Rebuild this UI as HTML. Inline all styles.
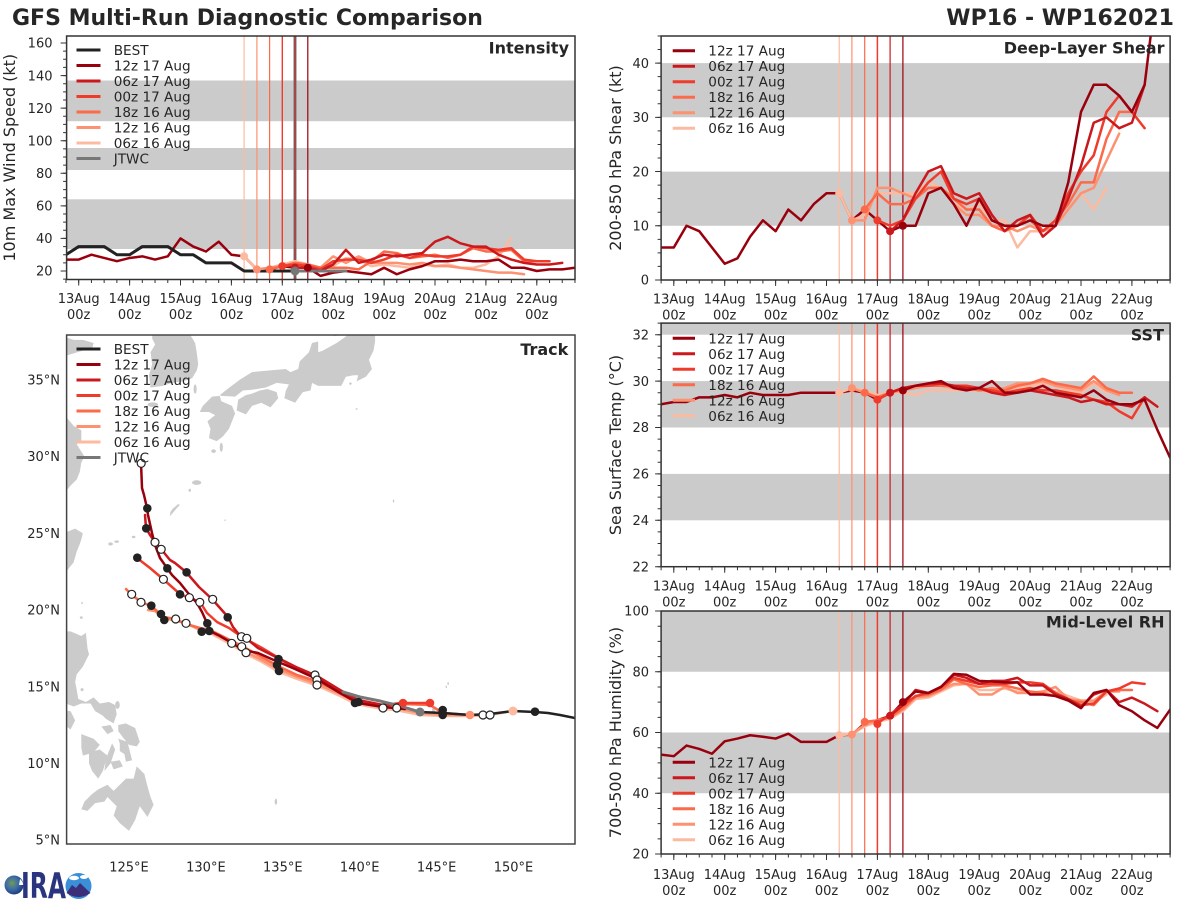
<!DOCTYPE html>
<html><head><meta charset="utf-8">
<style>
html,body{margin:0;padding:0;background:#fff;}
svg{display:block;font-family:"DejaVu Sans","Liberation Sans",sans-serif;}
.t{font-size:13px;fill:#262626;}
.tm{font-size:13px;fill:#262626;text-anchor:middle;}
.te{font-size:13px;fill:#262626;text-anchor:end;}
.lg{font-size:13.6px;fill:#262626;}
.pl{font-size:16px;font-weight:bold;fill:#262626;text-anchor:end;}
.yl{font-size:16px;fill:#262626;text-anchor:middle;}
.ln{fill:none;vector-effect:non-scaling-stroke;stroke-width:2.5;stroke-linejoin:round;stroke-linecap:round;}
.tl{fill:none;stroke-width:2.5;stroke-linejoin:round;stroke-linecap:round;}
.fr{fill:none;stroke:#333;stroke-width:1.5;}
.tk{stroke:#333;fill:none;}
</style></head><body>
<svg width="1200" height="900" viewBox="0 0 1200 900">
<defs>
<clipPath id="cpI"><rect x="66.6" y="36" width="508.4" height="243.5"/></clipPath>
<clipPath id="cpS"><rect x="661.1" y="36" width="509" height="244"/></clipPath>
<clipPath id="cpT"><rect x="661.1" y="323.1" width="509" height="243.6"/></clipPath>
<clipPath id="cpR"><rect x="661.1" y="611" width="509" height="243"/></clipPath>
<clipPath id="cpK"><rect x="66.6" y="335" width="508.4" height="509"/></clipPath>
<radialGradient id="gl" cx="0.4" cy="0.4" r="0.7"><stop offset="0" stop-color="#6f9a5a"/><stop offset="0.5" stop-color="#3a6aa8"/><stop offset="1" stop-color="#1b2d6b"/></radialGradient>
</defs>

<!-- Titles -->
<text x="12" y="25" style="font-size:22px;font-weight:bold;fill:#262626">GFS Multi-Run Diagnostic Comparison</text>
<text x="1174" y="25" style="font-size:22px;font-weight:bold;fill:#262626;text-anchor:end">WP16 - WP162021</text>

<!-- ================= INTENSITY ================= -->
<g clip-path="url(#cpI)">
<rect x="66" y="80.5" width="510" height="40.7" fill="#cbcbcb"/>
<rect x="66" y="148" width="510" height="22" fill="#cbcbcb"/>
<rect x="66" y="199.3" width="510" height="49.7" fill="#cbcbcb"/>
<line x1="244.1" y1="36" x2="244.1" y2="280" stroke="#fcbba1" stroke-width="1.2"/>
<line x1="256.9" y1="36" x2="256.9" y2="280" stroke="#fc9272" stroke-width="1.2"/>
<line x1="269.6" y1="36" x2="269.6" y2="280" stroke="#fb6a4a" stroke-width="1.2"/>
<line x1="282.3" y1="36" x2="282.3" y2="280" stroke="#ef3b2c" stroke-width="1.4"/>
<line x1="295" y1="36" x2="295" y2="280" stroke="#777" stroke-width="3"/>
<line x1="295" y1="36" x2="295" y2="280" stroke="#cb181d" stroke-width="1"/>
<line x1="307.8" y1="36" x2="307.8" y2="280" stroke="#99000d" stroke-width="1.2"/>
<g transform="matrix(12.725,0,0,-1.6286,78.7,303.57)">
<polyline class="ln" stroke="#99000d" points="-1,27 0,27 1,30 2,28 3,26 4,28 5,29 6,27 7,29 8,40 9,35 10,32 11,38 12,30 13,29 14,21 15,21 16,23 17,22 18,22"/>
<polyline class="ln" stroke="#222" style="stroke-width:3" points="-1,30 0,35 1,35 2,35 3,30 4,30 5,35 6,35 7,35 8,30 9,30 10,25 11,25 12,25 13,20 14,20 15,20 16,20 17,20"/>
<polyline class="ln" stroke="#fcbba1" points="13,29 14,21 15,22 16,24 17,26 18,24 19,22 20,23 21,28 22,27 23,23 24,24 25,23 26,22 27,24 28,23 29,24 30,22 31,22 32,24 33,29 34,40"/>
<polyline class="ln" stroke="#fc9272" points="14,21 15,22 16,23 17,24 18,24 19,22 20,29 21,25 22,29 23,25 24,25 25,25 26,24 27,25 28,23 29,23 30,22 31,21 32,20 33,19 34,19 35,18"/>
<polyline class="ln" stroke="#fb6a4a" points="15,21 16,23 17,25 18,24 19,22 20,22 21,22 22,21 23,26 24,32 25,31 26,28 27,29 28,30 29,28 30,30 31,34 32,32 33,32 34,33 35,26 36,26"/>
<polyline class="ln" stroke="#ef3b2c" points="16,23 17,24 18,23 19,21 20,26 21,27 22,27 23,25 24,27 25,30 26,28 27,30 28,29 29,29 30,30 31,35 32,34 33,33 34,34 35,27 36,26 37,26"/>
<polyline class="ln" stroke="#cb181d" points="17,22 18,22 19,20 20,24 21,33 22,25 23,27 24,30 25,29 26,30 27,31 28,38 29,41 30,37 31,35 32,35 33,30 34,27 35,25 36,24 37,24 38,25"/>
<polyline class="ln" stroke="#99000d" points="18,22 19,17 20,19 21,20 22,19 23,18 24,22 25,18 26,21 27,23 28,26 29,26 30,27 31,26 32,26 33,27 34,22 35,22 36,20 37,21 38,21 39,22"/>
<polyline class="ln" stroke="#777" style="stroke-width:3" points="17,20 21,20"/>
</g>
<circle cx="244.1" cy="256.3" r="4" fill="#fcbba1"/>
<circle cx="256.9" cy="269.4" r="4" fill="#fc9272"/>
<circle cx="269.6" cy="269.4" r="4" fill="#fb6a4a"/>
<circle cx="282.3" cy="266.1" r="4" fill="#ef3b2c"/>
<circle cx="295" cy="267.7" r="4" fill="#cb181d"/>
<circle cx="307.8" cy="267.7" r="4" fill="#99000d"/>
<circle cx="295" cy="271" r="4.5" fill="#777"/>
</g>
<rect class="fr" x="66.6" y="36" width="508.4" height="243.5"/>
<!-- ticks -->
<line class="tk" x1="65.475" y1="281.25" x2="575.5" y2="281.25" stroke-width="3.5" stroke-dasharray="1 11.725"/>
<line class="tk" x1="78.2" y1="282.5" x2="540" y2="282.5" stroke-width="6" stroke-dasharray="1 49.9"/>
<line class="tk" x1="64.85" y1="42.5" x2="64.85" y2="280" stroke-width="3.5" stroke-dasharray="1 7.143"/>
<line class="tk" x1="63.6" y1="42.5" x2="63.6" y2="272" stroke-width="6" stroke-dasharray="1 31.57"/>
<g class="te">
<text class="te" x="52.5" y="47.7">160</text><text class="te" x="52.5" y="80.3">140</text><text class="te" x="52.5" y="112.8">120</text><text class="te" x="52.5" y="145.4">100</text><text class="te" x="52.5" y="178">80</text><text class="te" x="52.5" y="210.6">60</text><text class="te" x="52.5" y="243.1">40</text><text class="te" x="52.5" y="275.7">20</text>
</g>
<text class="tm" x="78.7" y="303.2">13Aug<tspan x="78.7" dy="15.8">00z</tspan></text>
<text class="tm" x="129.6" y="303.2">14Aug<tspan x="129.6" dy="15.8">00z</tspan></text>
<text class="tm" x="180.5" y="303.2">15Aug<tspan x="180.5" dy="15.8">00z</tspan></text>
<text class="tm" x="231.4" y="303.2">16Aug<tspan x="231.4" dy="15.8">00z</tspan></text>
<text class="tm" x="282.3" y="303.2">17Aug<tspan x="282.3" dy="15.8">00z</tspan></text>
<text class="tm" x="333.2" y="303.2">18Aug<tspan x="333.2" dy="15.8">00z</tspan></text>
<text class="tm" x="384.1" y="303.2">19Aug<tspan x="384.1" dy="15.8">00z</tspan></text>
<text class="tm" x="435" y="303.2">20Aug<tspan x="435" dy="15.8">00z</tspan></text>
<text class="tm" x="485.9" y="303.2">21Aug<tspan x="485.9" dy="15.8">00z</tspan></text>
<text class="tm" x="536.8" y="303.2">22Aug<tspan x="536.8" dy="15.8">00z</tspan></text>
<text class="yl" transform="translate(15,157.75) rotate(-90)">10m Max Wind Speed (kt)</text>
<text class="pl" x="569" y="53.3">Intensity</text>
<!-- legend -->
<g stroke-width="3">
<line x1="76.5" y1="50" x2="100.5" y2="50" stroke="#222"/>
<line x1="76.5" y1="65.5" x2="100.5" y2="65.5" stroke="#99000d"/>
<line x1="76.5" y1="81" x2="100.5" y2="81" stroke="#cb181d"/>
<line x1="76.5" y1="96.5" x2="100.5" y2="96.5" stroke="#ef3b2c"/>
<line x1="76.5" y1="112" x2="100.5" y2="112" stroke="#fb6a4a"/>
<line x1="76.5" y1="127.5" x2="100.5" y2="127.5" stroke="#fc9272"/>
<line x1="76.5" y1="143" x2="100.5" y2="143" stroke="#fcbba1"/>
<line x1="76.5" y1="158.5" x2="100.5" y2="158.5" stroke="#777"/>
</g>
<text class="lg" x="113.7" y="55">BEST</text>
<text class="lg" x="113.7" y="70.5">12z 17 Aug</text>
<text class="lg" x="113.7" y="86">06z 17 Aug</text>
<text class="lg" x="113.7" y="101.5">00z 17 Aug</text>
<text class="lg" x="113.7" y="117">18z 16 Aug</text>
<text class="lg" x="113.7" y="132.5">12z 16 Aug</text>
<text class="lg" x="113.7" y="148">06z 16 Aug</text>
<text class="lg" x="113.7" y="163.5">JTWC</text>

<!-- ================= SHEAR ================= -->
<g clip-path="url(#cpS)">
<rect x="660" y="63.1" width="512" height="54.2" fill="#cbcbcb"/>
<rect x="660" y="171.6" width="512" height="54.2" fill="#cbcbcb"/>
<line x1="839.2" y1="36" x2="839.2" y2="280" stroke="#fcbba1" stroke-width="1.2"/>
<line x1="851.9" y1="36" x2="851.9" y2="280" stroke="#fc9272" stroke-width="1.2"/>
<line x1="864.7" y1="36" x2="864.7" y2="280" stroke="#fb6a4a" stroke-width="1.2"/>
<line x1="877.4" y1="36" x2="877.4" y2="280" stroke="#ef3b2c" stroke-width="1.5"/>
<line x1="890.1" y1="36" x2="890.1" y2="280" stroke="#cb181d" stroke-width="1.2"/>
<line x1="902.9" y1="36" x2="902.9" y2="280" stroke="#99000d" stroke-width="1.2"/>
<g transform="matrix(12.725,0,0,-5.422,673.8,280)">
<polyline class="ln" stroke="#99000d" points="-1,6 0,6 1,10 2,9 3,6 4,3 5,4 6,8 7,11 8,9 9,13 10,11 11,14 12,16 13,16 14,11 15,13 16,11 17,9 18,10"/>
<polyline class="ln" stroke="#fcbba1" points="13,16 14,11 15,12 16,16 17,16 18,16 19,16 20,18 21,17 22,14 23,13 24,14 25,11 26,11 27,6 28,9 29,9 30,10 31,13 32,16 33,13 34,17"/>
<polyline class="ln" stroke="#fc9272" points="14,11 15,11 16,17 17,17 18,16 19,15 20,17 21,17 22,14 23,12 24,12 25,10 26,10 27,9 28,10 29,9 30,10 31,13 32,16 33,17 34,22 35,27"/>
<polyline class="ln" stroke="#fb6a4a" points="15,13 16,16 17,14 18,14 19,15 20,17 21,17 22,15 23,13 24,13 25,10 26,9 27,10 28,11 29,9 30,11 31,14 32,18 33,18 34,26 35,31 36,31"/>
<polyline class="ln" stroke="#ef3b2c" points="16,11 17,10 18,11 19,15 20,18 21,20 22,15 23,14 24,15 25,11 26,10 27,10 28,12 29,9 30,11 31,16 32,20 33,23 34,31 35,34 36,31 37,28"/>
<polyline class="ln" stroke="#cb181d" points="17,9 18,11 19,16 20,20 21,21 22,16 23,15 24,16 25,12 26,9 27,11 28,12 29,8 30,10 31,15 32,21 33,29 34,30 35,28 36,29 37,36"/>
<polyline class="ln" stroke="#99000d" points="18,10 19,10 20,16 21,17 22,14 23,10 24,15 25,11 26,10 27,10 28,11 29,10 30,10 31,18 32,31 33,36 34,36 35,34 36,31 37,36 38,55"/>
</g>
<circle cx="839.2" cy="193.2" r="4" fill="#fcbba1"/>
<circle cx="851.9" cy="220.4" r="4" fill="#fc9272"/>
<circle cx="864.7" cy="209.5" r="4" fill="#fb6a4a"/>
<circle cx="877.4" cy="220.4" r="4" fill="#ef3b2c"/>
<circle cx="890.1" cy="231.2" r="4" fill="#cb181d"/>
<circle cx="902.9" cy="225.8" r="4" fill="#99000d"/>
</g>
<rect class="fr" x="661.1" y="36" width="509" height="244"/>
<line class="tk" x1="660.6" y1="281.75" x2="1170.6" y2="281.75" stroke-width="3.5" stroke-dasharray="1 11.725"/>
<line class="tk" x1="673.3" y1="283" x2="1135" y2="283" stroke-width="6" stroke-dasharray="1 49.9"/>
<line class="tk" x1="659.35" y1="35.5" x2="659.35" y2="280.5" stroke-width="3.5" stroke-dasharray="1 12.555"/>
<line class="tk" x1="658.1" y1="62.62" x2="658.1" y2="280.5" stroke-width="6" stroke-dasharray="1 53.22"/>
<text class="te" x="649" y="67.8">40</text><text class="te" x="649" y="122">30</text><text class="te" x="649" y="176.3">20</text><text class="te" x="649" y="230.5">10</text><text class="te" x="649" y="284.7">0</text>
<text class="tm" x="673.8" y="303.7">13Aug<tspan x="673.8" dy="15.8">00z</tspan></text>
<text class="tm" x="724.7" y="303.7">14Aug<tspan x="724.7" dy="15.8">00z</tspan></text>
<text class="tm" x="775.6" y="303.7">15Aug<tspan x="775.6" dy="15.8">00z</tspan></text>
<text class="tm" x="826.5" y="303.7">16Aug<tspan x="826.5" dy="15.8">00z</tspan></text>
<text class="tm" x="877.4" y="303.7">17Aug<tspan x="877.4" dy="15.8">00z</tspan></text>
<text class="tm" x="928.3" y="303.7">18Aug<tspan x="928.3" dy="15.8">00z</tspan></text>
<text class="tm" x="979.2" y="303.7">19Aug<tspan x="979.2" dy="15.8">00z</tspan></text>
<text class="tm" x="1030.1" y="303.7">20Aug<tspan x="1030.1" dy="15.8">00z</tspan></text>
<text class="tm" x="1081" y="303.7">21Aug<tspan x="1081" dy="15.8">00z</tspan></text>
<text class="tm" x="1131.9" y="303.7">22Aug<tspan x="1131.9" dy="15.8">00z</tspan></text>
<text class="yl" transform="translate(621,158) rotate(-90)">200-850 hPa Shear (kt)</text>
<text class="pl" x="1164.5" y="53.3">Deep-Layer Shear</text>
<g stroke-width="3">
<line x1="672.7" y1="50.7" x2="695" y2="50.7" stroke="#99000d"/>
<line x1="672.7" y1="66.2" x2="695" y2="66.2" stroke="#cb181d"/>
<line x1="672.7" y1="81.7" x2="695" y2="81.7" stroke="#ef3b2c"/>
<line x1="672.7" y1="97.2" x2="695" y2="97.2" stroke="#fb6a4a"/>
<line x1="672.7" y1="112.7" x2="695" y2="112.7" stroke="#fc9272"/>
<line x1="672.7" y1="128.2" x2="695" y2="128.2" stroke="#fcbba1"/>
</g>
<text class="lg" x="708.3" y="55.7">12z 17 Aug</text>
<text class="lg" x="708.3" y="71.2">06z 17 Aug</text>
<text class="lg" x="708.3" y="86.7">00z 17 Aug</text>
<text class="lg" x="708.3" y="102.2">18z 16 Aug</text>
<text class="lg" x="708.3" y="117.7">12z 16 Aug</text>
<text class="lg" x="708.3" y="133.2">06z 16 Aug</text>

<!-- ================= SST ================= -->
<g clip-path="url(#cpT)">
<rect x="660" y="322" width="512" height="12.7" fill="#cbcbcb"/>
<rect x="660" y="381.1" width="512" height="46.4" fill="#cbcbcb"/>
<rect x="660" y="473.9" width="512" height="46.4" fill="#cbcbcb"/>
<line x1="839.2" y1="323" x2="839.2" y2="567" stroke="#fcbba1" stroke-width="1.2"/>
<line x1="851.9" y1="323" x2="851.9" y2="567" stroke="#fc9272" stroke-width="1.2"/>
<line x1="864.7" y1="323" x2="864.7" y2="567" stroke="#fb6a4a" stroke-width="1.2"/>
<line x1="877.4" y1="323" x2="877.4" y2="567" stroke="#ef3b2c" stroke-width="1.5"/>
<line x1="890.1" y1="323" x2="890.1" y2="567" stroke="#cb181d" stroke-width="1.2"/>
<line x1="902.9" y1="323" x2="902.9" y2="567" stroke="#99000d" stroke-width="1.2"/>
<g transform="matrix(12.725,0,0,-23.2,673.8,1077.1)">
<polyline class="ln" stroke="#99000d" points="-1,29.0 0,29.1 1,29.1 2,29.3 3,29.3 4,29.4 5,29.3 6,29.5 7,29.4 8,29.4 9,29.4 10,29.5 11,29.5 12,29.5 13,29.5 14,29.6 15,29.5 16,29.2 17,29.5 18,29.6"/>
<polyline class="ln" stroke="#fcbba1" points="13,29.5 14,29.7 15,29.6 16,29.4 17,29.5 18,29.5 19,29.4 20,29.6 21,29.6 22,29.6 23,29.6 24,29.6 25,29.5 26,29.5 27,29.7 28,29.8 29,29.9 30,29.8 31,29.6 32,29.5 33,29.9 34,29.5"/>
<polyline class="ln" stroke="#fc9272" points="14,29.7 15,29.5 16,29.3 17,29.5 18,29.6 19,29.7 20,29.8 21,29.8 22,29.7 23,29.7 24,29.6 25,29.6 26,29.7 27,29.9 28,29.9 29,30.0 30,29.8 31,29.7 32,29.6 33,30.0 34,29.6 35,29.4"/>
<polyline class="ln" stroke="#fb6a4a" points="15,29.5 16,29.3 17,29.5 18,29.7 19,29.8 20,29.8 21,29.8 22,29.8 23,29.7 24,29.6 25,29.7 26,29.6 27,29.8 28,29.9 29,30.1 30,29.9 31,29.8 32,29.7 33,30.2 34,29.7 35,29.5 36,29.5"/>
<polyline class="ln" stroke="#ef3b2c" points="16,29.2 17,29.5 18,29.7 19,29.8 20,29.8 21,29.9 22,29.8 23,29.8 24,29.7 25,29.6 26,29.5 27,29.6 28,29.7 29,29.6 30,29.6 31,29.5 32,29.4 33,29.2 34,29.1 35,28.7 36,28.4 37,29.3"/>
<polyline class="ln" stroke="#cb181d" points="17,29.5 18,29.7 19,29.8 20,29.9 21,29.9 22,29.8 23,29.7 24,29.7 25,29.5 26,29.4 27,29.5 28,29.6 29,29.5 30,29.4 31,29.3 32,29.1 33,29.2 34,29.0 35,29.0 36,28.9 37,29.3 38,28.9"/>
<polyline class="ln" stroke="#99000d" points="18,29.6 19,29.8 20,29.9 21,30.0 22,29.7 23,29.6 24,29.7 25,30.0 26,29.5 27,29.5 28,29.6 29,29.8 30,29.5 31,29.4 32,29.3 33,29.6 34,29.2 35,29.0 36,29.0 37,29.2 38,27.9 39,26.7"/>
</g>
<circle cx="839.2" cy="392.7" r="4" fill="#fcbba1"/>
<circle cx="851.9" cy="388.1" r="4" fill="#fc9272"/>
<circle cx="864.7" cy="392.7" r="4" fill="#fb6a4a"/>
<circle cx="877.4" cy="399.7" r="4" fill="#ef3b2c"/>
<circle cx="890.1" cy="392.7" r="4" fill="#cb181d"/>
<circle cx="902.9" cy="390.4" r="4" fill="#99000d"/>
</g>
<rect class="fr" x="661.1" y="323.1" width="509" height="243.6"/>
<line class="tk" x1="660.6" y1="568.45" x2="1170.6" y2="568.45" stroke-width="3.5" stroke-dasharray="1 11.725"/>
<line class="tk" x1="673.3" y1="569.7" x2="1135" y2="569.7" stroke-width="6" stroke-dasharray="1 49.9"/>
<line class="tk" x1="659.35" y1="322.6" x2="659.35" y2="567.2" stroke-width="3.5" stroke-dasharray="1 10.6"/>
<line class="tk" x1="658.1" y1="334.2" x2="658.1" y2="567.2" stroke-width="6" stroke-dasharray="1 45.4"/>
<text class="te" x="649" y="339.4">32</text><text class="te" x="649" y="385.8">30</text><text class="te" x="649" y="432.2">28</text><text class="te" x="649" y="478.6">26</text><text class="te" x="649" y="525">24</text><text class="te" x="649" y="571.4">22</text>
<text class="tm" x="673.8" y="590.6">13Aug<tspan x="673.8" dy="15.8">00z</tspan></text>
<text class="tm" x="724.7" y="590.6">14Aug<tspan x="724.7" dy="15.8">00z</tspan></text>
<text class="tm" x="775.6" y="590.6">15Aug<tspan x="775.6" dy="15.8">00z</tspan></text>
<text class="tm" x="826.5" y="590.6">16Aug<tspan x="826.5" dy="15.8">00z</tspan></text>
<text class="tm" x="877.4" y="590.6">17Aug<tspan x="877.4" dy="15.8">00z</tspan></text>
<text class="tm" x="928.3" y="590.6">18Aug<tspan x="928.3" dy="15.8">00z</tspan></text>
<text class="tm" x="979.2" y="590.6">19Aug<tspan x="979.2" dy="15.8">00z</tspan></text>
<text class="tm" x="1030.1" y="590.6">20Aug<tspan x="1030.1" dy="15.8">00z</tspan></text>
<text class="tm" x="1081" y="590.6">21Aug<tspan x="1081" dy="15.8">00z</tspan></text>
<text class="tm" x="1131.9" y="590.6">22Aug<tspan x="1131.9" dy="15.8">00z</tspan></text>
<text class="yl" transform="translate(621,445) rotate(-90)">Sea Surface Temp (&#176;C)</text>
<text class="pl" x="1164" y="340.7">SST</text>
<g stroke-width="3">
<line x1="672.7" y1="338.3" x2="695" y2="338.3" stroke="#99000d"/>
<line x1="672.7" y1="353.8" x2="695" y2="353.8" stroke="#cb181d"/>
<line x1="672.7" y1="369.3" x2="695" y2="369.3" stroke="#ef3b2c"/>
<line x1="672.7" y1="384.8" x2="695" y2="384.8" stroke="#fb6a4a"/>
<line x1="672.7" y1="400.3" x2="695" y2="400.3" stroke="#fc9272"/>
<line x1="672.7" y1="415.8" x2="695" y2="415.8" stroke="#fcbba1"/>
</g>
<text class="lg" x="708.3" y="343.3">12z 17 Aug</text>
<text class="lg" x="708.3" y="358.8">06z 17 Aug</text>
<text class="lg" x="708.3" y="374.3">00z 17 Aug</text>
<text class="lg" x="708.3" y="389.8">18z 16 Aug</text>
<text class="lg" x="708.3" y="405.3">12z 16 Aug</text>
<text class="lg" x="708.3" y="420.8">06z 16 Aug</text>

<!-- ================= RH ================= -->
<g clip-path="url(#cpR)">
<rect x="660" y="610" width="512" height="61.75" fill="#cbcbcb"/>
<rect x="660" y="732.5" width="512" height="60.75" fill="#cbcbcb"/>
<line x1="839.2" y1="611" x2="839.2" y2="854" stroke="#fcbba1" stroke-width="1.2"/>
<line x1="851.9" y1="611" x2="851.9" y2="854" stroke="#fc9272" stroke-width="1.2"/>
<line x1="864.7" y1="611" x2="864.7" y2="854" stroke="#fb6a4a" stroke-width="1.2"/>
<line x1="877.4" y1="611" x2="877.4" y2="854" stroke="#ef3b2c" stroke-width="1.5"/>
<line x1="890.1" y1="611" x2="890.1" y2="854" stroke="#cb181d" stroke-width="1.2"/>
<line x1="902.9" y1="611" x2="902.9" y2="854" stroke="#99000d" stroke-width="1.2"/>
<g transform="matrix(12.725,0,0,-3.0375,673.8,914.75)">
<polyline class="ln" stroke="#99000d" points="-1,52.7 0,52.2 1,55.7 2,54.6 3,53 4,57.1 5,58 6,59.1 7,58.6 8,58 9,59.6 10,56.9 11,56.9 12,56.9 13,59.1 14,59.3 15,63 16,64 17,65.5 18,70"/>
<polyline class="ln" stroke="#fcbba1" points="13,59.1 14,59.5 15,62 16,63.5 17,64.5 18,67 19,71 20,71.5 21,73.5 22,75.5 23,76 24,74 25,74 26,74.5 27,73.5 28,73 29,73.5 30,73.5 31,72 32,70.5 33,70 34,72.5"/>
<polyline class="ln" stroke="#fc9272" points="14,59.5 15,62.5 16,64 17,65 18,67.5 19,71.5 20,72 21,74 22,76 23,76 24,72.5 25,72.5 26,75 27,73 28,73 29,73.5 30,75 31,71 32,70.5 33,70.5 34,73.5 35,73.5"/>
<polyline class="ln" stroke="#fb6a4a" points="15,63.5 16,64 17,65 18,68 19,72 20,72.5 21,74 22,77.5 23,76 24,75 25,75.5 26,75.5 27,74.5 28,73.5 29,73 30,72 31,70.5 32,70 33,69 34,73.5 35,74 36,74"/>
<polyline class="ln" stroke="#ef3b2c" points="16,63 17,66 18,69 19,72 20,73 21,75 22,78 23,77 24,76 25,76 26,76 27,76.5 28,76.5 29,76 30,73 31,71 32,69 33,69.5 34,73.5 35,74.5 36,76.5 37,76"/>
<polyline class="ln" stroke="#cb181d" points="17,65.5 18,69 19,74 20,73 21,75 22,79 23,78 24,76 25,77 26,77 27,78 28,75.5 29,75.5 30,72.5 31,71 32,68.5 33,72.5 34,74 35,70 36,71.5 37,69.5 38,67"/>
<polyline class="ln" stroke="#99000d" points="18,70 19,73.5 20,73 21,75 22,79.3 23,79 24,77 25,76.8 26,76.5 27,76.5 28,72.5 29,72.5 30,72 31,70.5 32,68 33,73 34,74 35,69 36,67 37,64 38,61.5 39,67.5"/>
</g>
<circle cx="839.2" cy="735.2" r="4" fill="#fcbba1"/>
<circle cx="851.9" cy="734.6" r="4" fill="#fc9272"/>
<circle cx="864.7" cy="721.9" r="4" fill="#fb6a4a"/>
<circle cx="877.4" cy="724" r="4" fill="#ef3b2c"/>
<circle cx="890.1" cy="715.8" r="4" fill="#cb181d"/>
<circle cx="902.9" cy="702.1" r="4" fill="#99000d"/>
</g>
<rect class="fr" x="661.1" y="611" width="509" height="243"/>
<line class="tk" x1="660.6" y1="855.75" x2="1170.6" y2="855.75" stroke-width="3.5" stroke-dasharray="1 11.725"/>
<line class="tk" x1="673.3" y1="857" x2="1135" y2="857" stroke-width="6" stroke-dasharray="1 49.9"/>
<line class="tk" x1="659.35" y1="610.5" x2="659.35" y2="854.5" stroke-width="3.5" stroke-dasharray="1 14.19"/>
<line class="tk" x1="658.1" y1="610.5" x2="658.1" y2="854.5" stroke-width="6" stroke-dasharray="1 59.75"/>
<text class="te" x="649" y="615.7">100</text><text class="te" x="649" y="676.5">80</text><text class="te" x="649" y="737.2">60</text><text class="te" x="649" y="798">40</text><text class="te" x="649" y="858.7">20</text>
<text class="tm" x="673.8" y="879">13Aug<tspan x="673.8" dy="15.8">00z</tspan></text>
<text class="tm" x="724.7" y="879">14Aug<tspan x="724.7" dy="15.8">00z</tspan></text>
<text class="tm" x="775.6" y="879">15Aug<tspan x="775.6" dy="15.8">00z</tspan></text>
<text class="tm" x="826.5" y="879">16Aug<tspan x="826.5" dy="15.8">00z</tspan></text>
<text class="tm" x="877.4" y="879">17Aug<tspan x="877.4" dy="15.8">00z</tspan></text>
<text class="tm" x="928.3" y="879">18Aug<tspan x="928.3" dy="15.8">00z</tspan></text>
<text class="tm" x="979.2" y="879">19Aug<tspan x="979.2" dy="15.8">00z</tspan></text>
<text class="tm" x="1030.1" y="879">20Aug<tspan x="1030.1" dy="15.8">00z</tspan></text>
<text class="tm" x="1081" y="879">21Aug<tspan x="1081" dy="15.8">00z</tspan></text>
<text class="tm" x="1131.9" y="879">22Aug<tspan x="1131.9" dy="15.8">00z</tspan></text>
<text class="yl" transform="translate(621,732.5) rotate(-90)">700-500 hPa Humidity (%)</text>
<text class="pl" x="1164.5" y="627.3">Mid-Level RH</text>
<g stroke-width="3">
<line x1="672.7" y1="762.3" x2="695" y2="762.3" stroke="#99000d"/>
<line x1="672.7" y1="777.8" x2="695" y2="777.8" stroke="#cb181d"/>
<line x1="672.7" y1="793.3" x2="695" y2="793.3" stroke="#ef3b2c"/>
<line x1="672.7" y1="808.8" x2="695" y2="808.8" stroke="#fb6a4a"/>
<line x1="672.7" y1="824.3" x2="695" y2="824.3" stroke="#fc9272"/>
<line x1="672.7" y1="839.8" x2="695" y2="839.8" stroke="#fcbba1"/>
</g>
<text class="lg" x="708.3" y="767.3">12z 17 Aug</text>
<text class="lg" x="708.3" y="782.8">06z 17 Aug</text>
<text class="lg" x="708.3" y="798.3">00z 17 Aug</text>
<text class="lg" x="708.3" y="813.8">18z 16 Aug</text>
<text class="lg" x="708.3" y="829.3">12z 16 Aug</text>
<text class="lg" x="708.3" y="844.8">06z 16 Aug</text>

<!-- ================= TRACK ================= -->
<g clip-path="url(#cpK)">
<g transform="matrix(15.38,0,0,-15.34,-1793.5,916.7)" fill="#cbcbcb">
<polygon points="130.9,34.0 131.4,34.4 132.2,35.0 133.0,35.5 134.0,35.6 135.2,35.7 135.5,35.5 136.0,35.7 136.1,36.2 136.7,36.8 136.9,37.4 137.3,37.5 137.3,36.8 137.6,36.9 138.5,37.4 139.2,37.9 139.6,38.6 140.0,39.0 141.5,39.0 141.0,38.3 141.0,37.5 140.9,36.9 140.6,36.3 140.8,35.7 140.4,35.2 139.8,34.9 139.9,35.3 139.6,35.3 139.1,35.2 138.8,34.6 138.2,34.6 137.3,34.6 136.9,34.8 136.8,34.3 136.3,34.2 135.8,33.5 135.1,33.8 135.2,34.3 135.4,34.7 134.6,34.8 133.9,34.5 133.0,34.35 132.4,34.3 131.9,33.9 131.0,33.95"/>
<polygon points="129.8,33.3 130.4,33.9 130.9,33.95 131.0,33.6 131.7,33.3 131.9,32.8 131.5,31.8 131.1,31.3 130.7,31.0 130.2,31.2 130.3,31.8 130.1,32.3 130.6,32.7 130.2,32.9 129.6,32.9"/>
<polygon points="132.0,33.0 132.6,32.75 133.0,33.3 133.6,33.5 134.2,33.2 134.7,33.8 134.6,34.2 134.0,34.4 133.5,34.3 133.0,34.1 132.6,34.0 132.1,33.7"/>
<polygon points="126.6,38.6 126.5,37.7 126.7,37.3 126.4,36.8 126.5,36.0 126.3,35.3 126.4,34.5 127.2,34.6 127.8,34.8 128.5,34.9 129.1,35.1 129.4,35.6 129.5,36.0 129.4,36.8 129.3,37.4 129.0,37.9 128.6,38.6"/>
<polygon points="120,38.6 120,36.5 120.3,36.1 121.0,36.6 122.0,36.9 122.6,37.0 122.7,37.4 122.0,37.6 121.4,37.6 120.8,37.8 120.4,38.6"/>
<polygon points="120,32.6 120.9,32.6 121.4,32.0 121.9,31.7 121.9,31.0 121.6,30.8 122.1,30.0 121.9,29.6 121.8,29.0 121.6,28.5 121.2,28.1 120.7,27.5 120.2,26.8 120,26.5"/>
<polygon points="120,22.9 120.7,22.0 120.9,21.9 121.0,22.6 121.4,23.1 121.6,23.8 121.8,24.3 121.9,24.6 122.0,25.0 121.5,25.3 121.0,25.1 120,24.2"/>
<polygon points="120,18.5 120.6,18.6 121.2,18.6 121.9,18.3 122.2,18.5 122.3,17.5 122.4,17.1 122.2,16.7 122.0,16.3 121.6,15.8 121.5,15.3 121.6,14.8 121.7,14.2 122.2,14.0 122.7,14.3 123.1,13.9 123.7,14.0 124.1,13.8 124.2,13.2 124.0,12.6 123.5,12.9 123.3,13.1 122.8,13.4 122.5,13.9 121.9,13.9 121.4,13.7 120.9,13.9 120.6,14.2 120,14.5"/>
<polygon points="120.3,13.5 121.2,13.4 121.5,12.8 121.2,12.2 120.7,12.6 120.3,13.3"/>
<polygon points="124.3,12.5 124.8,12.6 125.4,12.3 125.7,11.4 125.5,11.1 125.0,11.2 124.6,11.7 124.3,12.1"/>
<polygon points="124.3,11.6 124.9,11.4 125.0,11.0 125.2,10.2 124.8,10.1 124.7,10.6 124.4,10.8 124.4,11.3"/>
<polygon points="121.9,11.9 122.7,11.6 123.1,11.2 122.7,10.7 122.0,10.5 121.9,11.0"/>
<polygon points="122.4,10.7 123.1,10.9 123.6,10.5 123.3,9.5 123.0,9.0 122.6,9.5 122.4,10.0"/>
<polygon points="123.9,11.3 124.1,10.9 123.8,10.0 123.4,9.5 123.5,10.3"/>
<polygon points="123.8,10.1 124.4,10.2 124.6,9.8 124.0,9.6"/>
<polygon points="123.2,12.4 123.8,12.5 124.0,12.1 123.6,11.9"/>
<polygon points="121.9,7.0 122.1,7.5 122.6,8.0 123.0,8.3 123.6,8.6 124.0,8.2 124.4,8.6 124.8,9.0 125.3,9.0 125.5,9.8 126.0,9.3 126.2,8.5 126.4,7.8 126.6,7.3 126.2,6.5 125.7,7.2 125.4,6.3 125.0,5.6 124.4,6.1 124.0,6.6 124.2,7.2 123.6,7.8 123.4,7.5 122.8,7.4 122.3,6.9"/>
<polygon points="127.65,26.1 127.95,26.45 128.3,26.85 128.2,26.9 127.85,26.6 127.7,26.4"/>
<ellipse cx="126.55" cy="33.38" rx="0.35" ry="0.15"/>
<ellipse cx="129.3" cy="34.4" rx="0.1" ry="0.3"/>
<ellipse cx="130.5" cy="30.35" rx="0.15" ry="0.12"/>
<ellipse cx="131.0" cy="30.6" rx="0.1" ry="0.3"/>
<ellipse cx="129.4" cy="28.3" rx="0.3" ry="0.15"/>
<ellipse cx="128.95" cy="27.8" rx="0.08" ry="0.1"/>
<ellipse cx="125.3" cy="24.75" rx="0.12" ry="0.08"/>
<ellipse cx="124.2" cy="24.45" rx="0.15" ry="0.08"/>
<ellipse cx="123.8" cy="24.3" rx="0.15" ry="0.1"/>
<ellipse cx="139.4" cy="34.75" rx="0.08" ry="0.08"/>
<ellipse cx="139.8" cy="33.1" rx="0.07" ry="0.05"/>
<ellipse cx="142.2" cy="27.1" rx="0.05" ry="0.1"/>
<ellipse cx="145.75" cy="15.2" rx="0.05" ry="0.1"/>
<ellipse cx="145.63" cy="14.98" rx="0.05" ry="0.08"/>
<ellipse cx="144.8" cy="13.45" rx="0.1" ry="0.2"/>
<ellipse cx="134.55" cy="7.5" rx="0.08" ry="0.2"/>
<ellipse cx="124.25" cy="13.8" rx="0.15" ry="0.25"/>
<ellipse cx="121.95" cy="14.8" rx="0.1" ry="0.1"/>
<ellipse cx="121.95" cy="20.45" rx="0.05" ry="0.08"/>
<ellipse cx="121.9" cy="19.5" rx="0.1" ry="0.08"/>
<ellipse cx="131.25" cy="25.85" rx="0.05" ry="0.05"/>
<ellipse cx="138.4" cy="38.05" rx="0.3" ry="0.2"/>
</g>
<!-- tracks -->
<polyline class="tl" stroke="#fcbba1" points="513,711 490,715 470,716 443,716 420,715 396,710 383,709 356,704 340,696 318,686 297,679 279,672 262,662 246,654 232,645 210,633 186,624 176,620 164,619 151,606 141,602 131,594 127,590"/>
<polyline class="tl" stroke="#fc9272" points="490,715 470,715 443,715 420,713 396,708 356,702 340,694 317,684 297,677 278,669 260,659 244,651 231,642 210,632 200,630 186,623 164,618 155,611 148,610"/>
<polyline class="tl" stroke="#fb6a4a" points="470,715 443,713 430,705 403,704 383,706 356,701 340,692 316,681 297,675 278,666 258,655 242,646 230,640 210,630 200,628 186,624 175,619 164,617 151,606 141,602 132,595 126,589"/>
<polyline class="tl" stroke="#ef3b2c" points="430,703 403,703 383,706 358,701 340,691 316,677 295,668 277,657 262,648 242,637 229,628 217,622 207,613 200,602 189,598 180,594 172,587 163,579 150,568 137,558"/>
<polyline class="tl" stroke="#cb181d" points="403,703 383,705 358,700 340,690 317,676 296,667 278,658 258,648 247,639 241,637 233,627 228,617 220,608 212,599 199,587 186,572 175,563 170,560 161,549 155,542 150,535 146,528 145,515"/>
<polyline class="tl" stroke="#99000d" points="405,709 383,707 358,703 340,693 317,679 295,669 276,661 258,653 243,650 232,643 220,636 210,631 207,623 202,612 197,603 188,593 180,583 172,575 167,568 160,558 155,545 152,533 148,515 147,508 144,495 142,488 141.5,475 141,463"/>
<polyline class="tl" stroke="#777" style="stroke-width:3" points="420,712 400,706 380,701 360,697 343,692"/>
<polyline class="tl" stroke="#222" points="575,718 560,715 548,713 535,712 513,711 490,714 470,715 443,713 420,712"/>
<!-- filled markers -->
<g fill="#222">
<circle cx="147.3" cy="508.3" r="4.3"/><circle cx="146.2" cy="528.3" r="4.3"/><circle cx="137.3" cy="557.7" r="4.3"/>
<circle cx="167.3" cy="568.3" r="4.3"/><circle cx="186.6" cy="572.3" r="4.3"/><circle cx="180" cy="594.3" r="4.3"/>
<circle cx="207.3" cy="623.3" r="4.3"/><circle cx="227.7" cy="617.3" r="4.3"/><circle cx="209.3" cy="631" r="4.3"/>
<circle cx="201.7" cy="631.7" r="4.3"/><circle cx="151.3" cy="605.7" r="4.3"/><circle cx="161" cy="614" r="4.3"/>
<circle cx="164.3" cy="620" r="4.3"/><circle cx="277" cy="665" r="4.3"/><circle cx="278.5" cy="659" r="4.3"/>
<circle cx="279" cy="671" r="4.3"/><circle cx="355" cy="703" r="4.3"/><circle cx="358.5" cy="702" r="4.3"/>
<circle cx="442.7" cy="710" r="4.3"/><circle cx="442.7" cy="715" r="4.3"/><circle cx="535" cy="711.7" r="4.3"/>
</g>
<g fill="#fff" stroke="#222" stroke-width="1.2">
<circle cx="141.2" cy="463.3" r="4"/><circle cx="155" cy="542.3" r="4"/><circle cx="161.2" cy="549.3" r="4"/>
<circle cx="163.4" cy="579.3" r="4"/><circle cx="189.4" cy="597.7" r="4"/><circle cx="199.8" cy="602.3" r="4"/>
<circle cx="212.7" cy="599.3" r="4"/><circle cx="241.5" cy="636.7" r="4"/><circle cx="246.8" cy="638.3" r="4"/>
<circle cx="231.7" cy="643.3" r="4"/><circle cx="241.7" cy="646.7" r="4"/><circle cx="246" cy="652.7" r="4"/>
<circle cx="131.7" cy="594.3" r="4"/><circle cx="141" cy="602.3" r="4"/><circle cx="175.7" cy="619" r="4"/>
<circle cx="186" cy="623.3" r="4"/><circle cx="315" cy="675" r="4"/><circle cx="317" cy="680" r="4"/>
<circle cx="317" cy="685" r="4"/><circle cx="383" cy="708" r="4"/><circle cx="396.7" cy="708" r="4"/>
<circle cx="483" cy="715" r="4"/><circle cx="490" cy="715" r="4"/>
</g>
<circle cx="403" cy="703" r="4.3" fill="#ef3b2c"/>
<circle cx="430" cy="703" r="4.3" fill="#ef3b2c"/>
<circle cx="420" cy="712" r="4.5" fill="#777"/>
<circle cx="470" cy="715" r="4.3" fill="#fc9272"/>
<circle cx="513" cy="711" r="4.5" fill="#fcbba1"/>
</g>
<rect x="66.6" y="335" width="508.4" height="509" fill="none" stroke="#444" stroke-width="1.5"/>
<text class="te" x="60" y="384.5">35&#176;N</text>
<text class="te" x="60" y="461.2">30&#176;N</text>
<text class="te" x="60" y="537.9">25&#176;N</text>
<text class="te" x="60" y="614.6">20&#176;N</text>
<text class="te" x="60" y="691.3">15&#176;N</text>
<text class="te" x="60" y="768">10&#176;N</text>
<text class="te" x="60" y="844.7">5&#176;N</text>
<text class="tm" x="129" y="871.4">125&#176;E</text>
<text class="tm" x="205.9" y="871.4">130&#176;E</text>
<text class="tm" x="282.8" y="871.4">135&#176;E</text>
<text class="tm" x="359.7" y="871.4">140&#176;E</text>
<text class="tm" x="436.6" y="871.4">145&#176;E</text>
<text class="tm" x="513.5" y="871.4">150&#176;E</text>
<text class="pl" x="568.3" y="355">Track</text>
<g stroke-width="3">
<line x1="76.5" y1="349" x2="100.5" y2="349" stroke="#222"/>
<line x1="76.5" y1="364.5" x2="100.5" y2="364.5" stroke="#99000d"/>
<line x1="76.5" y1="380" x2="100.5" y2="380" stroke="#cb181d"/>
<line x1="76.5" y1="395.5" x2="100.5" y2="395.5" stroke="#ef3b2c"/>
<line x1="76.5" y1="411" x2="100.5" y2="411" stroke="#fb6a4a"/>
<line x1="76.5" y1="426.5" x2="100.5" y2="426.5" stroke="#fc9272"/>
<line x1="76.5" y1="442" x2="100.5" y2="442" stroke="#fcbba1"/>
<line x1="76.5" y1="457.5" x2="100.5" y2="457.5" stroke="#777"/>
</g>
<text class="lg" x="113.7" y="354">BEST</text>
<text class="lg" x="113.7" y="369.5">12z 17 Aug</text>
<text class="lg" x="113.7" y="385">06z 17 Aug</text>
<text class="lg" x="113.7" y="400.5">00z 17 Aug</text>
<text class="lg" x="113.7" y="416">18z 16 Aug</text>
<text class="lg" x="113.7" y="431.5">12z 16 Aug</text>
<text class="lg" x="113.7" y="447">06z 16 Aug</text>
<text class="lg" x="113.7" y="462.5">JTWC</text>

<!-- CIRA logo -->
<circle cx="14" cy="885" r="9.5" fill="url(#gl)"/>
<path d="M20,879 A9.5,9.5 0 0 1 23.5,885 L19,885 Z" fill="#fff"/>
<text x="21" y="898" textLength="45" lengthAdjust="spacingAndGlyphs" style="font-size:36px;font-weight:bold;fill:#2a3580">IRA</text>
<circle cx="78.5" cy="886" r="13" fill="#3a8fd8"/>
<ellipse cx="74" cy="878" rx="5" ry="2.2" fill="#fff"/>
<ellipse cx="84" cy="877" rx="4" ry="2" fill="#fff"/>
<path d="M66.5,893 L72,885 L76,888 L80,883 L90.5,893 Q78.5,901 66.5,893 Z" fill="#3b2f7a"/>
</svg>
</body></html>
